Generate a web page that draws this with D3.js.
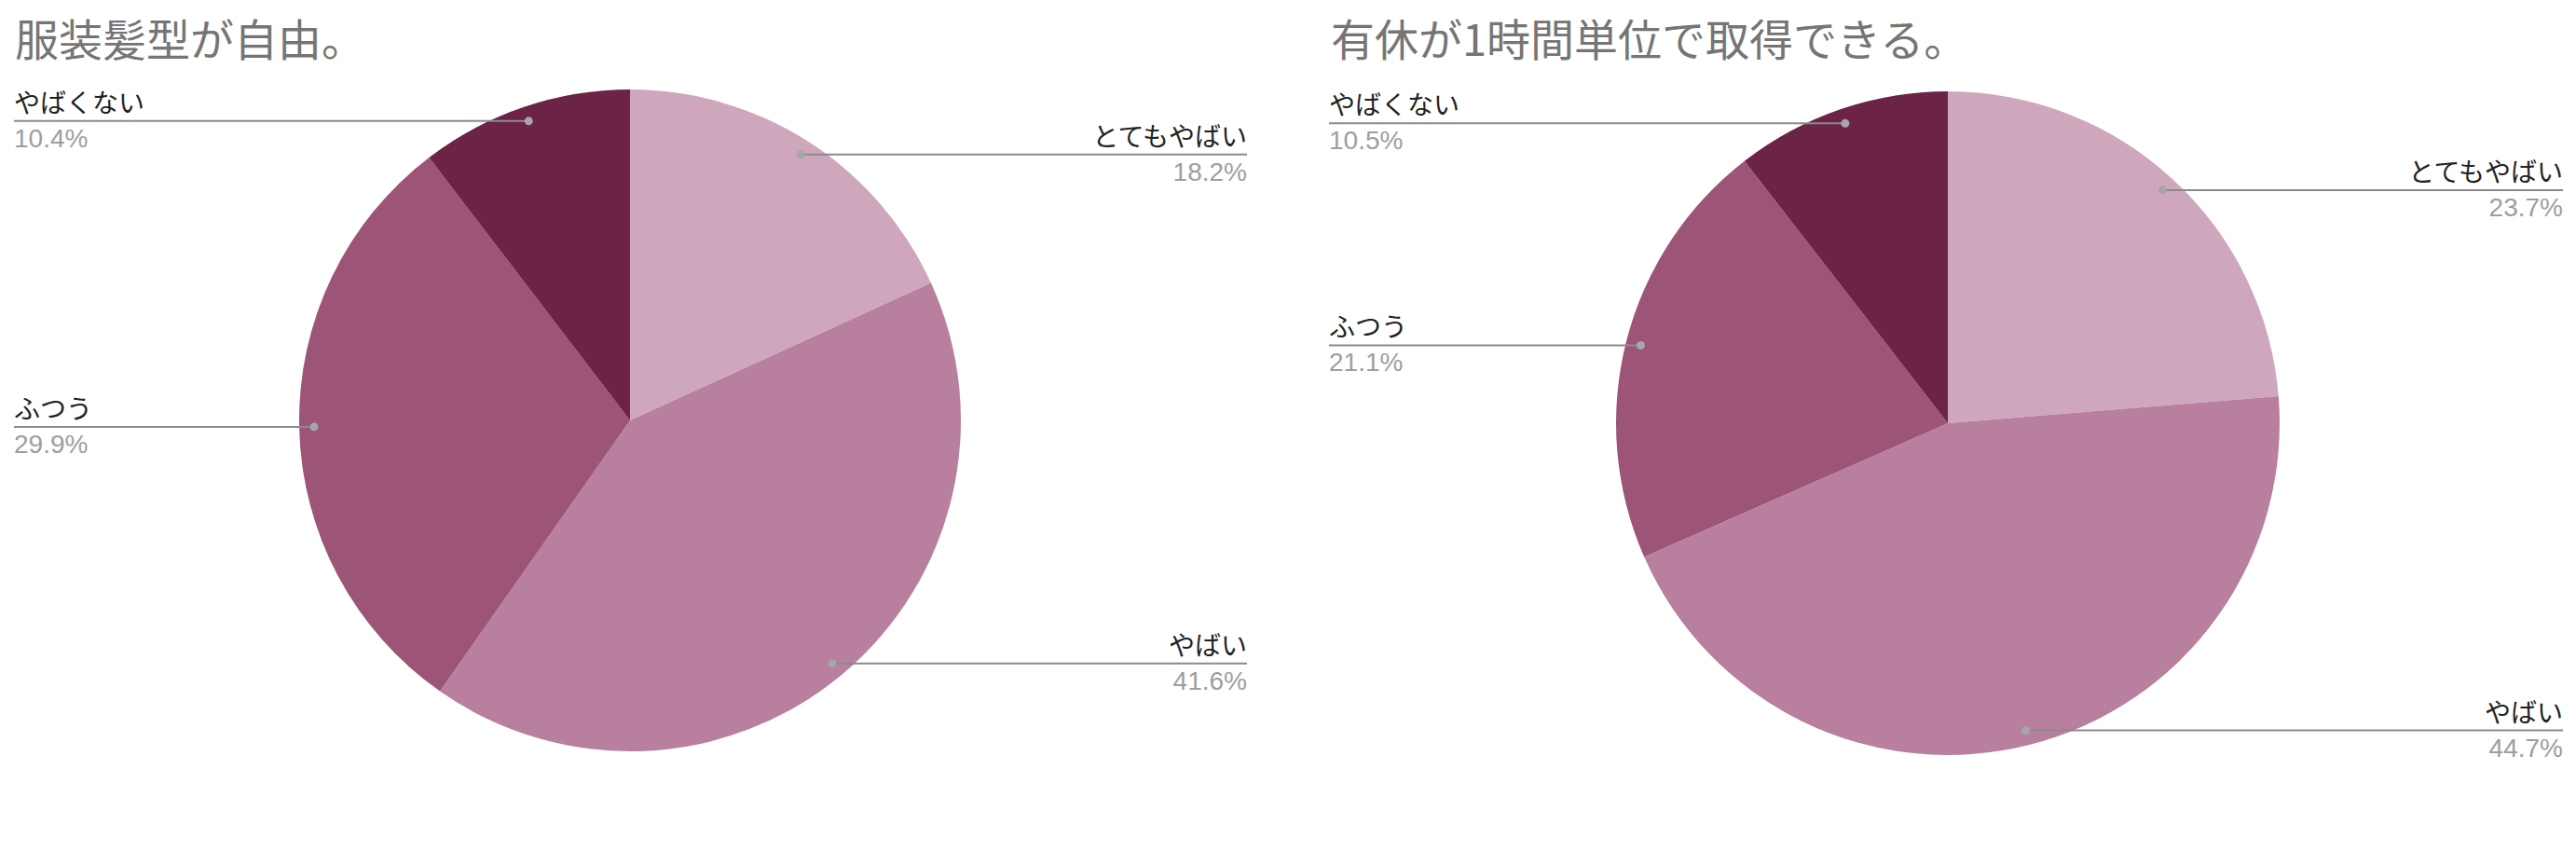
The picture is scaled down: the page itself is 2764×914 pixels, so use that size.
<!DOCTYPE html>
<html>
<head>
<meta charset="utf-8">
<script src="https://cdn.jsdelivr.net/npm/d3@7"></script>
<style>
  html, body { margin: 0; padding: 0; background: #fff; }
  svg { display: block; }
</style>
</head>
<body>
<svg id="chart"></svg>
<script>
// categories, in clockwise order from 12 o'clock
const categories = ["とてもやばい", "やばい", "ふつう", "やばくない"];
const colors = ["#cfa7bd", "#b97f9e", "#9c5477", "#6b2346"];

const titleDress = "服装髪型が自由。";
const valuesDress = [18.2, 41.6, 29.9, 10.4];

const titleLeave = "有休が1時間単位で取得できる。";
const valuesLeave = [23.7, 44.7, 21.1, 10.5];

const width = 2764;
const height = 914;

const svg = d3.select("#chart")
    .attr("width", width)
    .attr("height", height)
    .attr("viewBox", [0, 0, width, height]);

const color = d3.scaleOrdinal(categories, colors);
const fmt = d3.format(".1f");

/* one pie panel: title, slices, leader lines with labels */
function drawPie(title, values, opt) {
    const data = categories.map((c, i) => ({name: c, value: values[i]}));
    const total = d3.sum(values);
    const arcs = d3.pie().sort(null).value(d => d.value)(data);
    const arc = d3.arc().innerRadius(0).outerRadius(opt.r);

    const g = svg.append("g");

    g.append("text")
        .attr("x", opt.titleX)
        .attr("y", 60)
        .attr("fill", "#757575")
        .style("font", "47px 'Noto Sans CJK JP', sans-serif")
        .text(title);

    g.append("g")
        .attr("transform", `translate(${opt.cx},${opt.cy})`)
        .selectAll("path")
        .data(arcs)
        .join("path")
        .attr("fill", d => color(d.data.name))
        .attr("d", arc);

    const labels = g.append("g")
        .selectAll("g")
        .data(arcs)
        .join("g");

    labels.each(function (d) {
        const a = (d.startAngle + d.endAngle) / 2;
        const px = opt.cx + Math.sin(a) * opt.r * 0.955;
        const py = opt.cy - Math.cos(a) * opt.r * 0.955;
        const left = a > Math.PI;
        const ex = left ? opt.labelLeft : opt.labelRight;
        const sel = d3.select(this);

        sel.append("line")
            .attr("x1", px).attr("y1", py)
            .attr("x2", ex).attr("y2", py)
            .attr("stroke", "#8a8a8a")
            .attr("stroke-width", 2);

        sel.append("circle")
            .attr("cx", px).attr("cy", py)
            .attr("r", 4.5)
            .attr("fill", "#a6a6a6");

        sel.append("text")
            .attr("x", ex)
            .attr("y", py - 9)
            .attr("text-anchor", left ? "start" : "end")
            .attr("fill", "#222")
            .style("font", "28px 'Noto Sans CJK JP', sans-serif")
            .text(d.data.name);

        sel.append("text")
            .attr("x", ex)
            .attr("y", py + 28)
            .attr("text-anchor", left ? "start" : "end")
            .attr("fill", "#9e9e9e")
            .style("font", "28px 'Liberation Sans', Arial, sans-serif")
            .text(fmt(d.data.value / total * 100) + "%");
    });
}

drawPie(titleDress, valuesDress, {cx: 676, cy: 451, r: 355, titleX: 16, labelLeft: 15, labelRight: 1338});
drawPie(titleLeave, valuesLeave, {cx: 2090, cy: 454, r: 356, titleX: 1428, labelLeft: 1426, labelRight: 2750});
</script>
</body>
</html>
